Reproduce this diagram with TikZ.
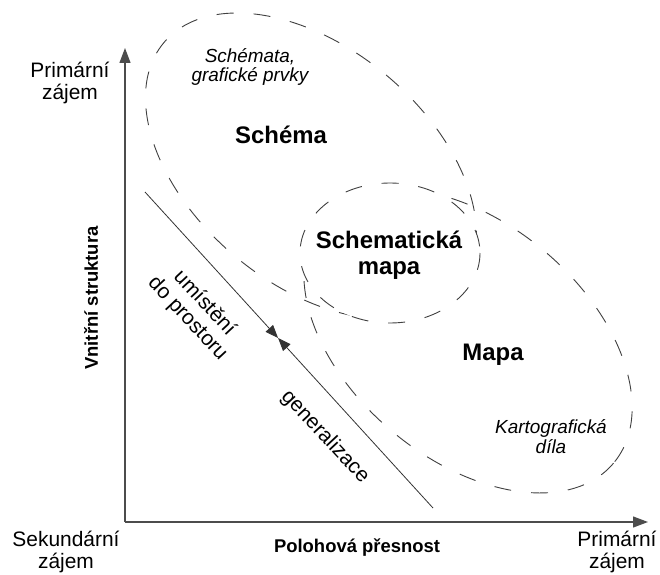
\documentclass[tikz,border=0pt]{standalone}
\usepackage{fontspec}
\setmainfont{Liberation Sans}
\usetikzlibrary{arrows.meta,calc}
\begin{document}
\begin{tikzpicture}[
    x=1bp, y=-1bp,
    axis/.style={-{Triangle[length=15bp,width=11bp]}, line width=1.2bp, black!70},
    region/.style={dash pattern=on 17bp off 20bp, line width=0.9bp, black!75},
    flow/.style={-{Triangle[length=13bp,width=10bp]}, line width=0.8bp, black!80},
    axlabel/.style={font=\fontsize{21}{23}\selectfont, align=center},
    axtitle/.style={font=\bfseries\fontsize{18.5}{22}\selectfont},
    regname/.style={font=\bfseries\fontsize{24}{26}\selectfont, align=center},
    regnote/.style={font=\itshape\fontsize{19}{20}\selectfont, align=center}
    ]
    \useasboundingbox (0,0) rectangle (660,575);

    % Osy
    \coordinate (O) at (125,522);
    \coordinate (ytop) at (125,48);
    \coordinate (xend) at (648,522);
    \draw[axis] (O) -- (ytop);
    \draw[axis] (O) -- (xend);

    % Oblasti
    \draw[region, rotate around={-40:(311,166)}] (311,166) ellipse (192 and 118);
    \draw[region, rotate around={-40:(468,341)}] (468,341) ellipse (190 and 118);
    \draw[region, fill=white] (390,253) ellipse (90 and 70);

    % Prechod mezi schematem a mapou
    \coordinate (gA) at (145,192);
    \coordinate (gB) at (433,508);
    \coordinate (gM) at ($(gA)!0.462!(gB)$);
    \draw[flow] (gA) -- (gM);
    \draw[flow] (gB) -- (gM);

    % Popisy os
    \node[axlabel] (ytxt) at (70,83) {Primární\\zájem};
    \node[axtitle, rotate=90] (ytitle) at (91,298) {Vnitřní struktura};
    \node[axlabel] (xleft) at (66,552) {Sekundární\\zájem};
    \node[axlabel] (xright) at (617,552) {Primární\\zájem};
    \node[axtitle] (xtitle) at (357,548) {Polohová přesnost};

    % Popisy oblasti
    \node[regname] (schema) at (281,135) {Schéma};
    \node[regnote] (schemanote) at (250,67) {Schémata,\\grafické prvky};
    \node[regname] (schmapa) at (389,255) {Schematická\\mapa};
    \node[regname] (mapa) at (493,355) {Mapa};
    \node[regnote] (mapanote) at (551,437) {Kartografická\\díla};

    % Popisy prechodu
    \node[axlabel, rotate=-47] (umisteni) at (196,311) {umístění\\do prostoru};
    \node[axlabel, rotate=-47] (general) at (325,437) {generalizace};
\end{tikzpicture}
\end{document}
